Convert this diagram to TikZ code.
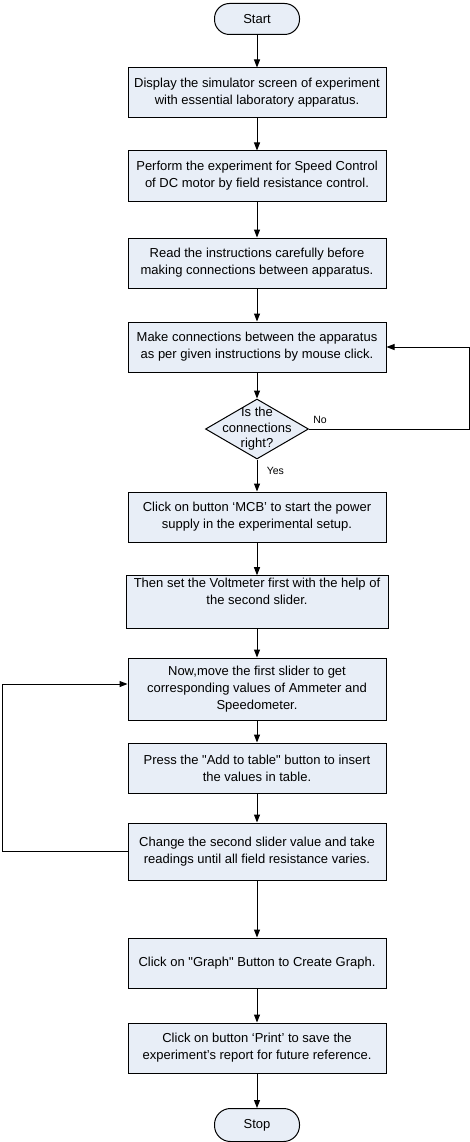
\documentclass[tikz,border=0pt]{standalone}
\usepackage{fontspec}
\setmainfont{Liberation Sans}
\usepackage{xcolor}
\usetikzlibrary{shapes.geometric,arrows.meta}
\definecolor{boxfill}{RGB}{232,238,247}

\begin{document}
\begin{tikzpicture}[x=1pt,y=-1pt,line width=1pt,
font=\fontsize{13}{17}\selectfont,
procbox/.style={draw, fill=boxfill, minimum width=258pt, minimum height=50pt, align=center, inner sep=2pt},
term/.style={draw, fill=boxfill, rounded corners=15pt, minimum width=85pt, minimum height=31pt},
decision/.style={draw, fill=boxfill, diamond, minimum width=103pt, minimum height=60pt, inner sep=0pt},
tag/.style={font=\fontsize{10.5}{12}\selectfont},
flow/.style={-{Triangle[length=8pt,width=6pt]}}]
\useasboundingbox (0,0) rectangle (470,1142);
% steps
\node[term] (start) at (257,19) {Start};
\node[procbox] (show) at (257,93) {Display the simulator screen of experiment\\with essential laboratory apparatus.};
\node[procbox] (perform) at (257,176) {Perform the experiment for Speed Control\\of DC motor by field resistance control.};
\node[procbox] (read) at (257,263) {Read the instructions carefully before\\making connections between apparatus.};
\node[procbox] (connect) at (257,347) {Make connections between the apparatus\\as per given instructions by mouse click.};
\node[decision, label={[align=center, font=\fontsize{13}{15.5}\selectfont]center:Is the\\connections\\right?}] (check) at (257,429) {};
\node[procbox] (mcb) at (257,517) {Click on button ‘MCB’ to start the power\\supply in the experimental setup.};
\node[procbox, minimum width=262pt] (volt) at (257,602) {Then set the Voltmeter first with the help of\\the second slider.\\\strut};
\node[procbox, minimum height=62pt] (slider) at (257,689) {Now,move the first slider to get\\corresponding values of Ammeter and\\Speedometer.};
\node[procbox] (addtab) at (257,768) {Press the \textquotedbl Add to table\textquotedbl{} button to insert\\the values in table.};
\node[procbox, minimum height=57pt] (change) at (257,851.5) {Change the second slider value and take\\readings until all field resistance varies.};
\node[procbox] (graph) at (257,963) {Click on \textquotedbl Graph\textquotedbl{} Button to Create Graph.};
\node[procbox] (print) at (257,1048) {Click on button ‘Print’ to save the\\experiment’s report for future reference.};
\node[term, minimum height=33pt, rounded corners=16pt] (stop) at (257,1125) {Stop};
% turning points of the loops
\coordinate (noturn) at (469,347);
\coordinate (backturn) at (2,684);
% connectors
\draw[flow] (start) -- (show);
\draw[flow] (show) -- (perform);
\draw[flow] (perform) -- (read);
\draw[flow] (read) -- (connect);
\draw[flow] (connect) -- (check);
\draw[flow] (check.south) -- (mcb) node[tag, pos=0.35, right=6pt] {Yes};
\draw[flow] (check.east) -| (noturn) -- (connect.east);
\node[tag] (nolabel) at (320,420) {No};
\draw[flow] (mcb) -- (volt);
\draw[flow] (volt) -- (slider);
\draw[flow] (slider) -- (addtab);
\draw[flow] (addtab) -- (change);
\draw[flow] (change.west) -- (change.west -| backturn) -- (backturn) -- (backturn -| slider.west);
\draw[flow] (change) -- (graph);
\draw[flow] (graph) -- (print);
\draw[flow] (print) -- (stop);
\end{tikzpicture}
\end{document}
